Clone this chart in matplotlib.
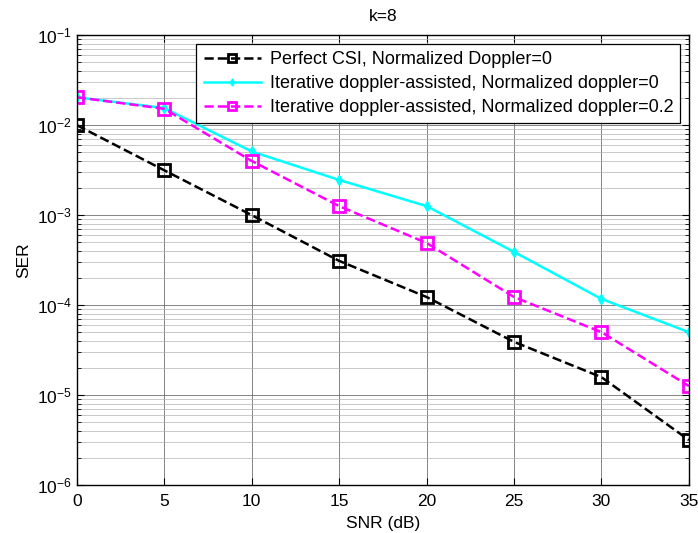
import matplotlib.pyplot as plt
import numpy as np

plt.rcParams['font.family'] = ['Liberation Sans', 'DejaVu Sans']
plt.rcParams['mathtext.default'] = 'regular'

# SNR points and SER curves
snr = [0, 5, 10, 15, 20, 25, 30, 35]
ser_perfect = [1.0e-2, 3.15e-3, 1.0e-3, 3.1e-4, 1.23e-4, 3.9e-5, 1.58e-5, 3.16e-6]
ser_iter_0 = [2.04e-2, 1.55e-2, 5.1e-3, 2.46e-3, 1.26e-3, 3.9e-4, 1.17e-4, 5.0e-5]
ser_iter_02 = [2.04e-2, 1.52e-2, 4.0e-3, 1.26e-3, 4.9e-4, 1.23e-4, 5.0e-5, 1.26e-5]

labels = ['Perfect CSI, Normalized Doppler=0',
          'Iterative doppler-assisted, Normalized doppler=0',
          'Iterative doppler-assisted, Normalized doppler=0.2']

fs = 12.5

fig = plt.figure(figsize=(6.98, 5.33), dpi=100)
ax = fig.add_axes([0.110, 0.090, 0.877, 0.844])

ax.semilogy(snr, ser_perfect, 'k--s', markersize=9, markerfacecolor='none',
            markeredgewidth=2, linewidth=1.8, label=labels[0])
ax.semilogy(snr, ser_iter_0, '-d', color='cyan', markersize=5, linewidth=1.8,
            label=labels[1])
ax.semilogy(snr, ser_iter_02, '--s', color='magenta', markersize=9,
            markerfacecolor='none', markeredgewidth=2, linewidth=1.8,
            label=labels[2])

ax.set_xlim(0, 35)
ax.set_ylim(1e-6, 1e-1)
ax.set_xticks(np.arange(0, 36, 5))
ax.grid(True, which='major', color='#707070', linewidth=0.6)
ax.grid(True, which='minor', axis='y', color='#b4b4b4', linewidth=0.5)
ax.tick_params(which='both', direction='in', top=True, right=True, labelsize=fs)
ax.tick_params(axis='x', pad=6.5)
ax.tick_params(which='major', length=5)
ax.tick_params(which='minor', length=3)
for s in ax.spines.values():
    s.set_linewidth(1.0)

ax.set_title('k=8', fontsize=fs, pad=10)
ax.set_xlabel('SNR (dB)', fontsize=fs, labelpad=5)
ax.set_ylabel('SER', fontsize=fs, labelpad=4)

leg = ax.legend(loc='upper right', bbox_to_anchor=(0.986, 0.980), fontsize=13,
                fancybox=False, edgecolor='black', framealpha=1,
                handlelength=3.2, handletextpad=0.45, markerscale=0.7,
                borderpad=0.4, labelspacing=0.38, borderaxespad=0)
leg.get_frame().set_linewidth(0.9)

fig.savefig('out.png', dpi=100)
